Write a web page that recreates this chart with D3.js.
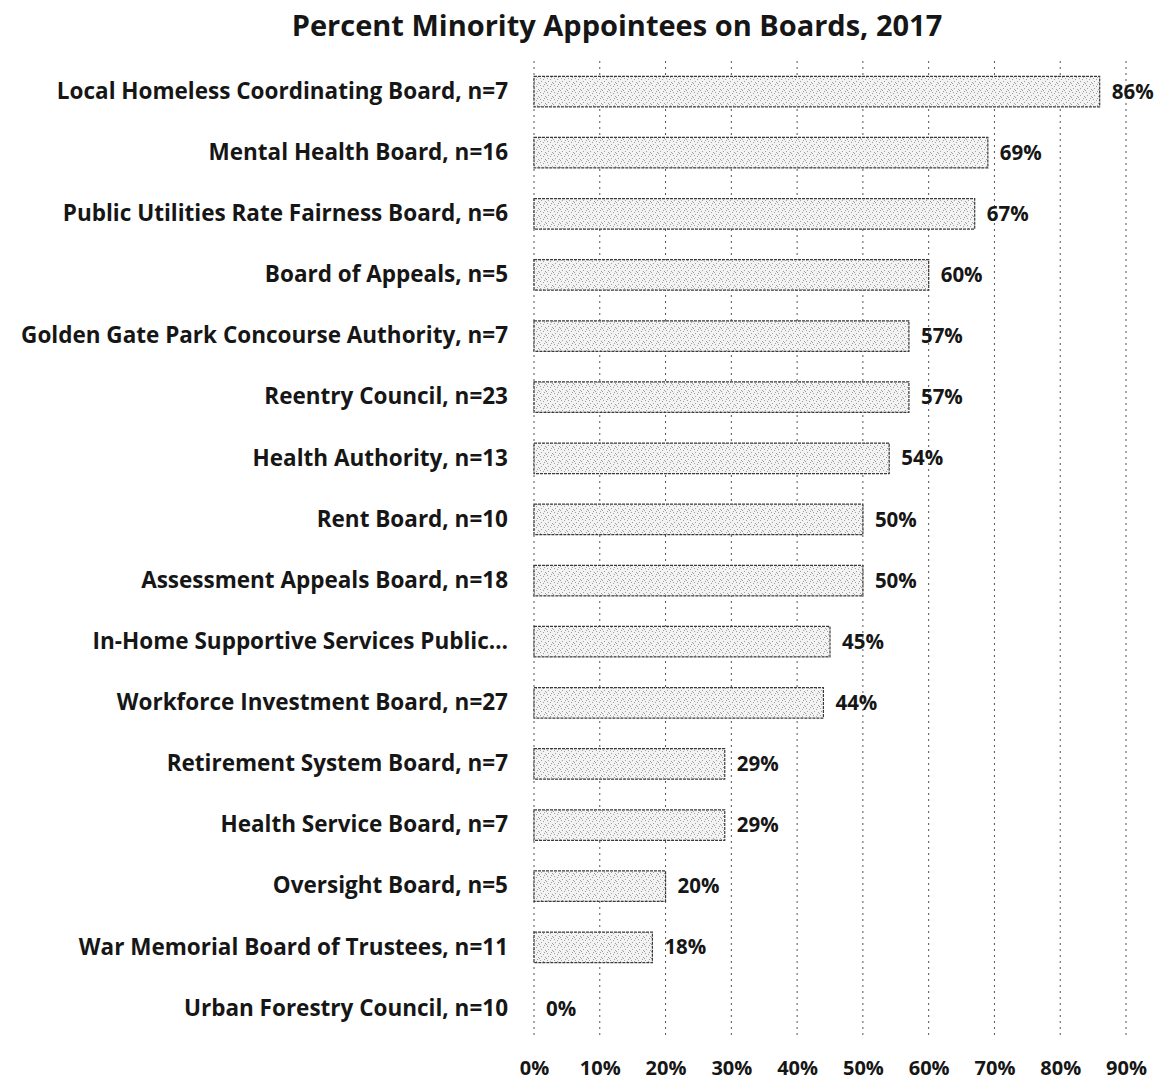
<!DOCTYPE html>
<html lang="en">
<head>
<meta charset="utf-8">
<title>Percent Minority Appointees on Boards, 2017</title>
<script src="https://cdn.jsdelivr.net/npm/d3@7"></script>
<style>
  body { margin: 0; background: #fff; }
  text { font-family: "Open Sans", Lato, sans-serif; fill: #161616; }
</style>
</head>
<body>
<script>
// chart values
var boards = [
  "Local Homeless Coordinating Board, n=7",
  "Mental Health Board, n=16",
  "Public Utilities Rate Fairness Board, n=6",
  "Board of Appeals, n=5",
  "Golden Gate Park Concourse Authority, n=7",
  "Reentry Council, n=23",
  "Health Authority, n=13",
  "Rent Board, n=10",
  "Assessment Appeals Board, n=18",
  "In-Home Supportive Services Public\u2026",
  "Workforce Investment Board, n=27",
  "Retirement System Board, n=7",
  "Health Service Board, n=7",
  "Oversight Board, n=5",
  "War Memorial Board of Trustees, n=11",
  "Urban Forestry Council, n=10"
];
var percents = [86, 69, 67, 60, 57, 57, 54, 50, 50, 45, 44, 29, 29, 20, 18, 0];
var ticks = [0, 10, 20, 30, 40, 50, 60, 70, 80, 90];
var title = "Percent Minority Appointees on Boards, 2017";

var w = 1159, h = 1082;
// note: "top" is a reserved window property, so use other names
var plotLeft = 534, plotRight = 1126, plotTop = 61, plotBottom = 1039;

var svg = d3.select("body").append("svg")
    .attr("width", w)
    .attr("height", h);

// stippled fill like the scanned bars
var defs = svg.append("defs");
var pat = defs.append("pattern")
    .attr("id", "stipple")
    .attr("patternUnits", "userSpaceOnUse")
    .attr("width", 7).attr("height", 7);
pat.append("rect").attr("width", 7).attr("height", 7).attr("fill", "#f3f3f3");
[[1, 1], [4, 2], [2, 4], [6, 5], [0, 6], [5, 0]].forEach(function(p) {
  pat.append("rect").attr("x", p[0]).attr("y", p[1])
     .attr("width", 1).attr("height", 1).attr("fill", "#a0a0a0");
});

var xScale = d3.scaleLinear().domain([0, 90]).range([plotLeft, plotRight]);
var yScale = d3.scaleBand().domain(boards).range([plotTop, plotBottom]).paddingInner(0.5).paddingOuter(0.25);

// title
svg.append("text")
    .attr("x", 617).attr("y", 36)
    .attr("text-anchor", "middle")
    .style("font-size", "29px")
    .style("font-weight", "bold")
    .text(title);

// dashed grid lines
svg.append("g").selectAll("line")
    .data(ticks)
    .enter().append("line")
    .attr("x1", function(d) { return xScale(d); })
    .attr("x2", function(d) { return xScale(d); })
    .attr("y1", plotTop)
    .attr("y2", plotBottom - 4)
    .attr("stroke", "#555")
    .attr("stroke-width", 1)
    .attr("stroke-dasharray", "2,4");

// bars
svg.append("g").selectAll("rect")
    .data(percents)
    .enter().append("rect")
    .attr("x", xScale(0))
    .attr("y", function(d, i) { return yScale(boards[i]); })
    .attr("width", function(d) { return xScale(d) - xScale(0); })
    .attr("height", yScale.bandwidth())
    .attr("fill", "url(#stipple)")
    .attr("stroke", function(d) { return d > 0 ? "#3a3a3a" : "none"; })
    .attr("stroke-width", 1.2)
    .attr("stroke-dasharray", "3,1");

// value labels
svg.append("g").selectAll("text")
    .data(percents)
    .enter().append("text")
    .attr("x", function(d) { return xScale(d) + 12; })
    .attr("y", function(d, i) { return yScale(boards[i]) + yScale.bandwidth() / 2; })
    .attr("dy", "0.35em")
    .style("font-size", "20.5px")
    .style("font-weight", "bold")
    .text(function(d) { return d + "%"; });

// category axis
var yAxis = d3.axisLeft(yScale).tickSize(0).tickPadding(26);
svg.append("g")
    .attr("transform", "translate(" + plotLeft + ",0)")
    .call(yAxis)
    .call(function(g) { g.select(".domain").remove(); })
    .selectAll("text")
    .style("font-size", "22.5px")
    .style("font-weight", "bold")
    .style("font-family", "'Open Sans', sans-serif")
    .attr("fill", "#161616");

// percent axis
var xAxis = d3.axisBottom(xScale).tickValues(ticks).tickSize(0).tickPadding(18)
    .tickFormat(function(d) { return d + "%"; });
svg.append("g")
    .attr("transform", "translate(0," + (plotBottom + 4) + ")")
    .call(xAxis)
    .call(function(g) { g.select(".domain").remove(); })
    .selectAll("text")
    .style("font-size", "20px")
    .style("font-weight", "bold")
    .style("font-family", "'Open Sans', sans-serif")
    .attr("fill", "#161616");
</script>
</body>
</html>
